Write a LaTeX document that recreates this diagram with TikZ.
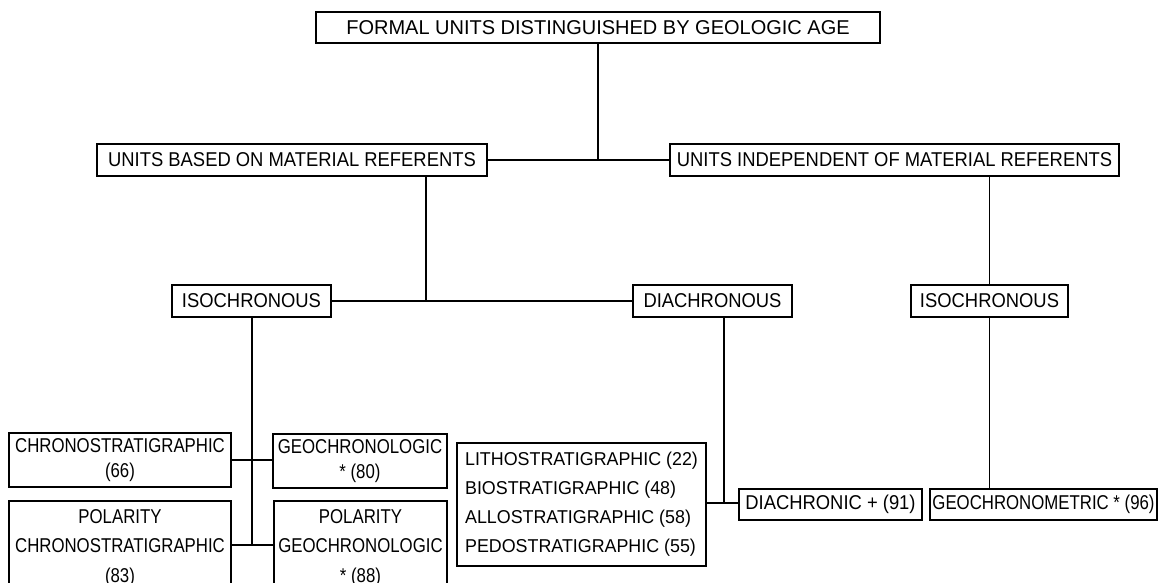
\documentclass[tikz,border=0pt]{standalone}
\usepackage{fontspec}
\setmainfont{Liberation Sans}
\newfontfamily\fA{Liberation Sans}
\newfontfamily\fB{Liberation Sans}[FakeStretch=0.92]
\newfontfamily\fC{Liberation Sans}[FakeStretch=0.84]
\newfontfamily\fD{Liberation Sans}[FakeStretch=0.96]
\begin{document}
\begin{tikzpicture}[x=1pt,y=-1pt,
  box/.style={draw,line width=1.2pt,inner sep=0pt,minimum height=#1},
  box/.default=32pt,
  conn/.style={line width=1.2pt},
  topfont/.style={font=\fA\fontsize{20}{24}\selectfont},
  midfont/.style={font=\fB\fontsize{20}{24}\selectfont},
  botfont/.style={font=\fC\fontsize{20}{25}\selectfont},
  polfont/.style={font=\fC\fontsize{20}{29.5}\selectfont},
  listfont/.style={font=\fD\fontsize{18.6}{29}\selectfont}]
\clip (0,0) rectangle (1161,582);
\fill[white] (0,0) rectangle (1161,582);
% level 1
\node[box=31pt,minimum width=564pt,topfont] (top) at (598,27.5) {FORMAL UNITS DISTINGUISHED BY GEOLOGIC AGE};
% level 2
\node[box,minimum width=390pt,midfont] (L) at (292,160) {UNITS BASED ON MATERIAL REFERENTS};
\node[box,minimum width=449pt,midfont] (R) at (894.5,160) {UNITS INDEPENDENT OF MATERIAL REFERENTS};
% level 3
\node[box,minimum width=159pt,midfont] (IL) at (251.5,301) {ISOCHRONOUS};
\node[box,minimum width=159pt,midfont] (DI) at (712.5,301) {DIACHRONOUS};
\node[box,minimum width=157pt,midfont] (IR) at (989.5,301) {ISOCHRONOUS};
% level 4
\node[box=54pt,minimum width=222pt,botfont,align=center] (C1) at (120,460) {CHRONOSTRATIGRAPHIC\\(66)};
\node[box=54pt,minimum width=174pt,botfont,align=center] (G1) at (360,461) {GEOCHRONOLOGIC\\* (80)};
\node[box=94pt,minimum width=222pt,polfont,align=center] (C2) at (120,548) {POLARITY\\CHRONOSTRATIGRAPHIC\\(83)};
\node[box=94pt,minimum width=173pt,polfont,align=center] (G2) at (360.5,548) {POLARITY\\GEOCHRONOLOGIC\\* (88)};
\node[box=123pt,minimum width=249pt,listfont,align=left] (LB) at (581.5,504.5) {LITHOSTRATIGRAPHIC (22)\\BIOSTRATIGRAPHIC (48)\\ALLOSTRATIGRAPHIC (58)\\PEDOSTRATIGRAPHIC (55)};
\node[box=31pt,minimum width=183pt,midfont] (DC) at (830.5,504.5) {DIACHRONIC + (91)};
\node[box=31pt,minimum width=227pt,botfont] (GM) at (1043.5,504.5) {GEOCHRONOMETRIC * (96)};
% junctions
\coordinate (j1) at (598,160);
\coordinate (j2) at (426,301);
\coordinate (j3) at (252,545);
\coordinate (j4) at (724,503);
% connectors
\draw[conn] (top.south) -- (j1);
\draw[conn] (L.east) -- (R.west);
\draw[conn] (L.south -| j2) -- (j2);
\draw[conn] (IL.east) -- (DI.west);
\draw[conn] (R.south -| IR.north) -- (IR.north);
\draw[conn] (IL.south -| j3) -- (j3);
\draw[conn] (C1.east) -- (C1.east -| G1.west);
\draw[conn] (C2.east |- j3) -- (G2.west |- j3);
\draw[conn] (DI.south -| j4) -- (j4);
\draw[conn] (LB.east |- j4) -- (DC.west |- j4);
\draw[conn] (IR.south) -- (IR.south |- GM.north);
\end{tikzpicture}
\end{document}
